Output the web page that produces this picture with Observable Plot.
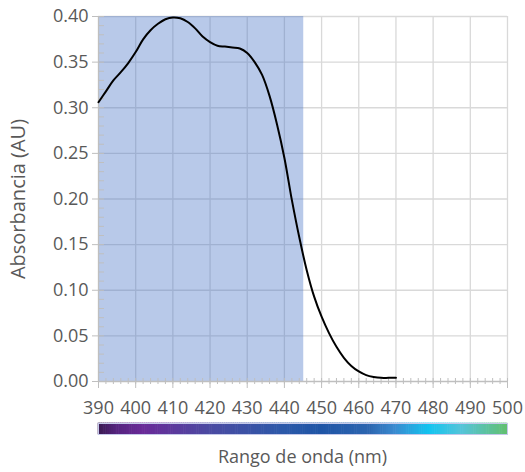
<!DOCTYPE html>
<html>
<head>
<meta charset="utf-8">
<script src="https://cdn.jsdelivr.net/npm/d3@7"></script>
<script src="https://cdn.jsdelivr.net/npm/@observablehq/plot@0.6"></script>
<style>
  html, body { margin: 0; padding: 0; background: #fff; }
  #wrap { width: 525px; }
  #caption { width: 525px; box-sizing: border-box; padding-left: 98px; padding-right: 18px; text-align: center;
    font-family: "Open Sans", sans-serif; font-size: 18px; line-height: 24px; color: #595959; margin-top: 4px; }
  svg { display: block; }
</style>
</head>
<body>
<div id="wrap"></div>
<div id="caption">Rango de onda (nm)</div>
<script>
// Spectrum data (wavelength nm, absorbance AU)
const wavelength = [390,392,394,396,398,400,402,404,406,408,410,412,414,416,418,420,422,424,426,428,430,432,434,436,438,440,442,444,446,448,450,452,454,456,458,460,462,464,466,468,470];
const absorbance = [0.306,0.318,0.330,0.339,0.349,0.361,0.375,0.385,0.392,0.397,0.399,0.398,0.394,0.387,0.378,0.372,0.368,0.367,0.366,0.365,0.360,0.350,0.336,0.313,0.282,0.245,0.199,0.158,0.122,0.093,0.071,0.053,0.038,0.026,0.017,0.011,0.007,0.005,0.004,0.004,0.004];

// Shaded wavelength band
const bandStart = [390];
const bandEnd = [445.2];

// Ticks
const xTicks = [390,400,410,420,430,440,450,460,470,480,490,500];
const xMinorTicks = d3.range(390, 500.1, 2);
const yTicks = [0,0.05,0.10,0.15,0.20,0.25,0.30,0.35,0.40];
const yMinorTicks = d3.range(0, 0.4001, 0.01);

// Colour bar stops
const stopNm = [390, 395, 402, 420, 440, 450, 463, 470, 479, 488, 500];
const stopColor = ["#3a1a50","#55237e","#6a2a98","#4b4aa2","#2c59a9","#1f55a6","#2d66b0","#3a8bd0","#12c4f0","#55c4d8","#62c070"];

const data = wavelength.map((w, i) => ({nm: w, A: absorbance[i]}));
const band = bandStart.map((s, i) => ({x1: s, x2: bandEnd[i]}));

const textColor = "#595959";
const main = Plot.plot({
  width: 525,
  height: 420,
  marginLeft: 98,
  marginRight: 18,
  marginTop: 16,
  marginBottom: 39,
  style: {fontFamily: "Open Sans", fontSize: "18px", color: textColor, background: "white"},
  x: {domain: [390, 500]},
  y: {domain: [0, 0.4]},
  marks: [
    Plot.ruleX(xTicks.slice(1), {stroke: "#d9d9d9", strokeWidth: 1.3}),
    Plot.ruleY(yTicks.slice(1), {stroke: "#d9d9d9", strokeWidth: 1.3}),
    Plot.rect(band, {x1: "x1", x2: "x2", fill: "#4472c4", fillOpacity: 0.38}),
    Plot.ruleX([390], {stroke: "#bfbfbf", strokeWidth: 1.3}),
    Plot.ruleY([0], {stroke: "#bfbfbf", strokeWidth: 1.3}),
    Plot.axisY({ticks: yMinorTicks, tickSize: 6, dx: 6, tickFormat: () => "", stroke: "#bfbfbf", label: null}),
    Plot.axisY({ticks: yTicks, tickSize: 6, tickPadding: 4, tickFormat: d3.format(".2f"), stroke: "#bfbfbf", label: null, fill: textColor}),
    Plot.axisY({ticks: [], tickSize: 0, label: "Absorbancia (AU)", labelAnchor: "center", labelArrow: false,
      labelOffset: 88, fontSize: 20, fill: textColor}),
    Plot.axisX({ticks: xMinorTicks, tickSize: 6, dy: -3, tickFormat: () => "", stroke: "#bfbfbf", label: null}),
    Plot.axisX({ticks: xTicks, tickSize: 7, tickPadding: 13, tickFormat: d3.format("d"), stroke: "#bfbfbf", label: null, fill: textColor}),
    Plot.line(data, {x: "nm", y: "A", curve: "catmull-rom", stroke: "black", strokeWidth: 2})
  ]
});

const barSlices = d3.range(390, 500, 0.5).map(v => ({a: v, b: v + 0.5, c: v + 0.25}));
const bar = Plot.plot({
  width: 525,
  height: 20,
  marginLeft: 98,
  marginRight: 18,
  marginTop: 3,
  marginBottom: 6,
  x: {domain: [390, 500], axis: null},
  y: {axis: null},
  color: {type: "linear", domain: stopNm, range: stopColor},
  marks: [
    Plot.rect(barSlices, {x1: "a", x2: "b", fill: "c", inset: -0.3}),
    Plot.frame({stroke: "#c4c8ea", strokeWidth: 1})
  ]
});

const wrap = document.getElementById("wrap");
wrap.appendChild(main);
wrap.appendChild(bar);
</script>
</body>
</html>
